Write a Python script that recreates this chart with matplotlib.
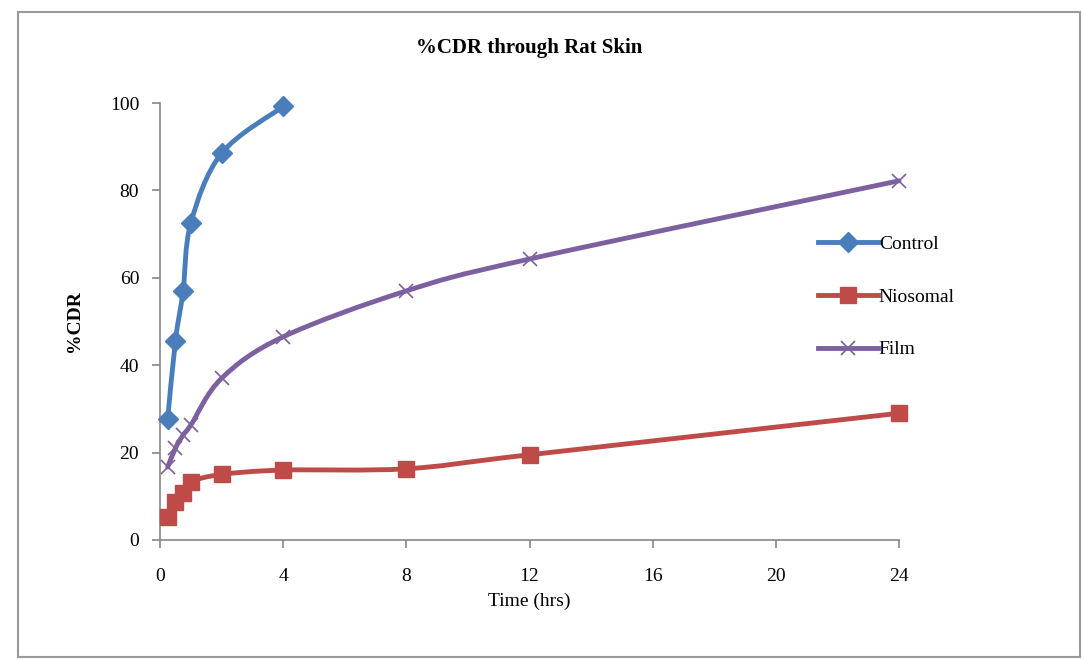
import numpy as np
import matplotlib
matplotlib.use("Agg")
import matplotlib.pyplot as plt
from matplotlib.path import Path
from matplotlib.patches import PathPatch, Rectangle
from matplotlib.lines import Line2D

# time points (hrs)
time_control = [0.25, 0.5, 0.75, 1, 2, 4]
time_all = [0.25, 0.5, 0.75, 1, 2, 4, 8, 12, 24]

# % cumulative drug release
control = [27.7, 45.5, 57.0, 72.5, 88.5, 99.2]
niosomal = [5.3, 8.7, 10.8, 13.3, 15.0, 16.0, 16.3, 19.5, 29.0]
film = [16.7, 21.0, 24.0, 26.3, 37.0, 46.5, 57.0, 64.3, 82.2]

series = [
    ("Control", time_control, control, "#4A7EBB", "D", 10),
    ("Niosomal", time_all, niosomal, "#BE4B48", "s", 12),
    ("Film", time_all, film, "#7D60A0", "x", 10),
]


def smooth_path(x, y):
    # catmull-rom style bezier through the points (like excel smoothed lines)
    p = np.column_stack([x, y]).astype(float)
    n = len(p)
    verts = [p[0]]
    codes = [Path.MOVETO]
    for i in range(n - 1):
        p0 = p[i - 1] if i > 0 else p[i]
        p3 = p[i + 2] if i + 2 < n else p[i + 1]
        c1 = p[i] + (p[i + 1] - p0) / 6.0
        c2 = p[i + 1] - (p3 - p[i]) / 6.0
        verts += [c1, c2, p[i + 1]]
        codes += [Path.CURVE4] * 3
    return Path(verts, codes)


fig = plt.figure(figsize=(10.84, 6.6), dpi=100)
plt.rcParams["font.family"] = ["Liberation Serif", "DejaVu Serif"]

# outer chart border
fig.patches.append(Rectangle((18 / 1084, 3 / 660), 1062 / 1084, 645 / 660,
                             transform=fig.transFigure, fill=False,
                             edgecolor="#9a9a9a", linewidth=1.5))

ax = fig.add_axes([160 / 1084, 120 / 660, 739 / 1084, 437 / 660])

handles = []
for name, t, v, col, mk, ms in series:
    ax.add_patch(PathPatch(smooth_path(t, v), fill=False, edgecolor=col,
                           linewidth=3.5, capstyle="round", zorder=2,
                           clip_on=False))
    mew = 1.2 if mk == "x" else 1
    ax.plot(t, v, linestyle="none", marker=mk, markersize=ms, color=col,
            markeredgecolor=col, markeredgewidth=mew, zorder=3, clip_on=False)
    handles.append(Line2D([], [], color=col, linewidth=3.5, marker=mk,
                          markersize=ms, markeredgewidth=mew, label=name))

ax.set_xlim(0, 24)
ax.set_ylim(0, 100)
ax.set_xticks([0, 4, 8, 12, 16, 20, 24])
ax.set_yticks([0, 20, 40, 60, 80, 100])
for s in ["top", "right"]:
    ax.spines[s].set_visible(False)
for s in ["left", "bottom"]:
    ax.spines[s].set_color("#868686")
    ax.spines[s].set_linewidth(1.2)
ax.tick_params(axis="both", colors="#868686", labelcolor="black",
               labelsize=14, length=6, width=1.2)
ax.tick_params(axis="x", pad=14)
ax.tick_params(axis="y", pad=9)

ax.set_title("%CDR through Rat Skin", fontsize=15, fontweight="bold", pad=36)
ax.set_xlabel("Time (hrs)", fontsize=14, labelpad=6)
ax.set_ylabel("%CDR", fontsize=14, fontweight="bold", labelpad=19)

fig.legend(handles=handles, loc="upper left",
           bbox_to_anchor=(800 / 1084, 1 - 218 / 660), frameon=False,
           fontsize=14, handlelength=3.1, handletextpad=0.05,
           labelspacing=1.8)

fig.savefig("out.png", dpi=100)
